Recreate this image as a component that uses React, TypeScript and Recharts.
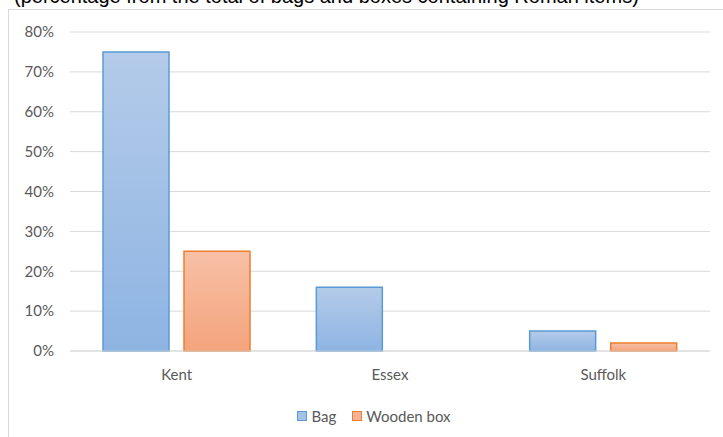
import { BarChart, Bar, XAxis, YAxis, CartesianGrid, Legend } from 'recharts'

const counties = ['Kent', 'Essex', 'Suffolk']
const bagShare = [0.75, 0.16, 0.05]
const boxShare = [0.25, 0, 0.02]
const yTicks = [0, 0.1, 0.2, 0.3, 0.4, 0.5, 0.6, 0.7, 0.8]

const data = counties.map((name, i) => ({ name, bag: bagShare[i], box: boxShare[i] }))

const FONT = 'Lato, "Open Sans", sans-serif'
const GRAY = '#595959'

const LegendContent = () => (
  <div style={{ display: 'flex', justifyContent: 'center', fontFamily: FONT, fontSize: 15, color: GRAY }}>
    <span style={{ display: 'flex', alignItems: 'center', marginRight: 16 }}>
      <span style={{ width: 8, height: 8, border: '1.5px solid #5b9bd5', background: '#a5c2e8', marginRight: 4 }} />
      Bag
    </span>
    <span style={{ display: 'flex', alignItems: 'center' }}>
      <span style={{ width: 8, height: 8, border: '1.5px solid #ed7d31', background: '#f5b193', marginRight: 4 }} />
      Wooden box
    </span>
  </div>
)

const App = () => {
  return (
    <div style={{ position: 'absolute', left: 0, top: 0, width: 723, height: 437, overflow: 'hidden', background: '#fff' }}>
      <div
        style={{
          position: 'absolute',
          left: 14,
          top: -15,
          fontFamily: '"Liberation Sans", Arial, sans-serif',
          fontSize: 20,
          color: '#000',
          whiteSpace: 'nowrap',
        }}
      >
        (percentage from the total of bags and boxes containing Roman items)
      </div>
      <div
        style={{
          position: 'absolute',
          left: 8,
          top: 9,
          width: 730,
          height: 440,
          border: '1px solid #d9d9d9',
        }}
      >
        <BarChart
          width={714}
          height={427}
          data={data}
          margin={{ top: 22, right: 13, left: 0, bottom: 38 }}
          barSize={66}
          barGap={15}
        >
          <defs>
            <linearGradient id="bagFill" x1="0" y1="0" x2="0" y2="1">
              <stop offset="0%" stopColor="#b4cbe9" />
              <stop offset="100%" stopColor="#8eb4e3" />
            </linearGradient>
            <linearGradient id="boxFill" x1="0" y1="0" x2="0" y2="1">
              <stop offset="0%" stopColor="#f7c0a6" />
              <stop offset="100%" stopColor="#f4a47c" />
            </linearGradient>
          </defs>
          <CartesianGrid vertical={false} stroke="#d9d9d9" />
          <XAxis
            dataKey="name"
            axisLine={{ stroke: '#d9d9d9' }}
            tickLine={false}
            tick={{ fill: GRAY, fontSize: 15, fontFamily: FONT }}
            tickMargin={12}
          />
          <YAxis
            width={61}
            domain={[0, 0.8]}
            ticks={yTicks}
            tickFormatter={(v: number) => `${Math.round(v * 100)}%`}
            axisLine={false}
            tickLine={false}
            tick={{ fill: GRAY, fontSize: 15, fontFamily: FONT }}
            tickMargin={10}
          />
          <Legend verticalAlign="bottom" wrapperStyle={{ bottom: 12, left: 0, width: 730 }} content={<LegendContent />} />
          <Bar dataKey="bag" name="Bag" fill="url(#bagFill)" stroke="#5b9bd5" strokeWidth={1.5} isAnimationActive={false} />
          <Bar dataKey="box" name="Wooden box" fill="url(#boxFill)" stroke="#ed7d31" strokeWidth={1.5} isAnimationActive={false} />
        </BarChart>
      </div>
    </div>
  )
}

export default App
